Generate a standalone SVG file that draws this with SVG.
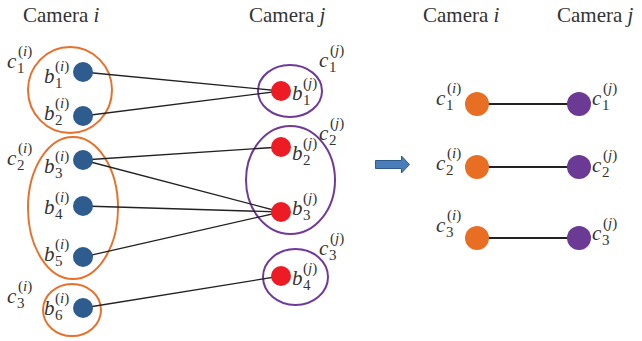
<svg xmlns="http://www.w3.org/2000/svg" width="642" height="341" viewBox="0 0 642 341">
<style>
.t{font-size:21px}
.m{font-size:21px;font-style:italic}
.s{font-size:15px;font-style:normal}
.it{font-style:italic}
.oe{fill:none;stroke:#E8702A;stroke-width:2}
.pe{fill:none;stroke:#6F3A98;stroke-width:2}
.bn{fill:#2E5C8E}
.rn{fill:#ED1C24}
.on{fill:#E86E24}
.pn{fill:#6A3A94}
.ln{stroke:#222;stroke-width:1.3}
.ln2{stroke:#222;stroke-width:2.2}
</style>
<g fill="#333" font-family="'Liberation Serif', 'Times New Roman', serif">
<g id="titles">
<text class="t" x="23" y="22">Camera <tspan class="it">i</tspan></text>
<text class="t" x="249" y="22">Camera <tspan class="it">j</tspan></text>
<text class="t" x="423" y="22">Camera <tspan class="it">i</tspan></text>
<text class="t" x="557" y="22">Camera <tspan class="it">j</tspan></text>
</g>
<g id="clusters">
<g id="ci1"><ellipse class="oe" cx="70" cy="90" rx="42" ry="43"/><text class="m" x="7" y="68">c<tspan class="s" x="18" y="56">(<tspan class="it">i</tspan>)</tspan><tspan class="s" x="17" y="73">1</tspan></text></g>
<g id="ci2"><ellipse class="oe" cx="73" cy="208" rx="45" ry="71"/><text class="m" x="7" y="165">c<tspan class="s" x="18" y="153">(<tspan class="it">i</tspan>)</tspan><tspan class="s" x="17" y="170">2</tspan></text></g>
<g id="ci3"><ellipse class="oe" cx="72" cy="310" rx="29" ry="26"/><text class="m" x="7" y="303">c<tspan class="s" x="18" y="291">(<tspan class="it">i</tspan>)</tspan><tspan class="s" x="17" y="308">3</tspan></text></g>
<g id="cj1"><ellipse class="pe" cx="290" cy="91" rx="32" ry="26"/><text class="m" x="319" y="67">c<tspan class="s" x="330" y="55">(<tspan class="it">j</tspan>)</tspan><tspan class="s" x="329" y="72">1</tspan></text></g>
<g id="cj2"><ellipse class="pe" cx="290.5" cy="180" rx="44.5" ry="54"/><text class="m" x="319" y="140">c<tspan class="s" x="330" y="128">(<tspan class="it">j</tspan>)</tspan><tspan class="s" x="329" y="145">2</tspan></text></g>
<g id="cj3"><ellipse class="pe" cx="295.5" cy="277" rx="32.5" ry="28"/><text class="m" x="319" y="255">c<tspan class="s" x="330" y="243">(<tspan class="it">j</tspan>)</tspan><tspan class="s" x="329" y="260">3</tspan></text></g>
</g>
<g id="connectors">
<line class="ln" x1="83" y1="72" x2="281" y2="91"/>
<line class="ln" x1="83" y1="116" x2="281" y2="91"/>
<line class="ln" x1="83" y1="160" x2="281" y2="147"/>
<line class="ln" x1="83" y1="160" x2="281" y2="212"/>
<line class="ln" x1="83" y1="206" x2="281" y2="212"/>
<line class="ln" x1="83" y1="257" x2="281" y2="212"/>
<line class="ln" x1="83" y1="308" x2="281" y2="276"/>
<line class="ln2" x1="477" y1="104" x2="579" y2="104"/>
<line class="ln2" x1="477" y1="167" x2="579" y2="167"/>
<line class="ln2" x1="477" y1="238" x2="579" y2="238"/>
</g>
<g id="bi1"><circle class="bn" cx="83" cy="72" r="10"/><text class="m" x="44" y="83">b<tspan class="s" x="55" y="71">(<tspan class="it">i</tspan>)</tspan><tspan class="s" x="55" y="88">1</tspan></text></g>
<g id="bi2"><circle class="bn" cx="83" cy="116" r="10"/><text class="m" x="44" y="120">b<tspan class="s" x="55" y="108">(<tspan class="it">i</tspan>)</tspan><tspan class="s" x="55" y="125">2</tspan></text></g>
<g id="bi3"><circle class="bn" cx="83" cy="160" r="10"/><text class="m" x="44" y="173">b<tspan class="s" x="55" y="161">(<tspan class="it">i</tspan>)</tspan><tspan class="s" x="55" y="178">3</tspan></text></g>
<g id="bi4"><circle class="bn" cx="83" cy="206" r="10"/><text class="m" x="44" y="214">b<tspan class="s" x="55" y="202">(<tspan class="it">i</tspan>)</tspan><tspan class="s" x="55" y="219">4</tspan></text></g>
<g id="bi5"><circle class="bn" cx="83" cy="257" r="10"/><text class="m" x="44" y="261">b<tspan class="s" x="55" y="249">(<tspan class="it">i</tspan>)</tspan><tspan class="s" x="55" y="266">5</tspan></text></g>
<g id="bi6"><circle class="bn" cx="83" cy="308" r="10"/><text class="m" x="44" y="315">b<tspan class="s" x="55" y="303">(<tspan class="it">i</tspan>)</tspan><tspan class="s" x="55" y="320">6</tspan></text></g>
<g id="bj1"><circle class="rn" cx="281" cy="91" r="10"/><text class="m" x="292" y="100">b<tspan class="s" x="303" y="88">(<tspan class="it">j</tspan>)</tspan><tspan class="s" x="303" y="105">1</tspan></text></g>
<g id="bj2"><circle class="rn" cx="281" cy="147" r="10"/><text class="m" x="292" y="160">b<tspan class="s" x="303" y="148">(<tspan class="it">j</tspan>)</tspan><tspan class="s" x="303" y="165">2</tspan></text></g>
<g id="bj3"><circle class="rn" cx="281" cy="212" r="10"/><text class="m" x="292" y="215">b<tspan class="s" x="303" y="203">(<tspan class="it">j</tspan>)</tspan><tspan class="s" x="303" y="220">3</tspan></text></g>
<g id="bj4"><circle class="rn" cx="281" cy="276" r="10"/><text class="m" x="292" y="285">b<tspan class="s" x="303" y="273">(<tspan class="it">j</tspan>)</tspan><tspan class="s" x="303" y="290">4</tspan></text></g>
<g id="arrow"><polygon points="375.5,160.5 401.5,160.5 401.5,156 409.5,164.5 401.5,173 401.5,168.5 375.5,168.5" fill="#4A7EBB" stroke="#2F5A8C" stroke-width="1"/></g>
<g id="ri1"><circle class="on" cx="477" cy="104" r="12"/><text class="m" x="436" y="105">c<tspan class="s" x="447" y="93">(<tspan class="it">i</tspan>)</tspan><tspan class="s" x="446" y="110">1</tspan></text></g>
<g id="ri2"><circle class="on" cx="477" cy="167" r="12"/><text class="m" x="436" y="170">c<tspan class="s" x="447" y="158">(<tspan class="it">i</tspan>)</tspan><tspan class="s" x="446" y="175">2</tspan></text></g>
<g id="ri3"><circle class="on" cx="477" cy="238" r="12"/><text class="m" x="436" y="232">c<tspan class="s" x="447" y="220">(<tspan class="it">i</tspan>)</tspan><tspan class="s" x="446" y="237">3</tspan></text></g>
<g id="rj1"><circle class="pn" cx="579" cy="104" r="12"/><text class="m" x="592" y="105">c<tspan class="s" x="603" y="93">(<tspan class="it">j</tspan>)</tspan><tspan class="s" x="602" y="110">1</tspan></text></g>
<g id="rj2"><circle class="pn" cx="579" cy="167" r="12"/><text class="m" x="592" y="172">c<tspan class="s" x="603" y="160">(<tspan class="it">j</tspan>)</tspan><tspan class="s" x="602" y="177">2</tspan></text></g>
<g id="rj3"><circle class="pn" cx="579" cy="238" r="12"/><text class="m" x="592" y="240">c<tspan class="s" x="603" y="228">(<tspan class="it">j</tspan>)</tspan><tspan class="s" x="602" y="245">3</tspan></text></g>
</g>
</svg>
